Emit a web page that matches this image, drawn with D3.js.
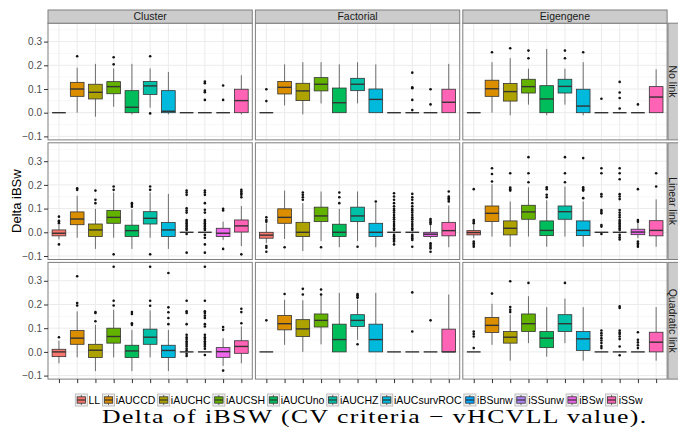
<!DOCTYPE html>
<html><head><meta charset="utf-8">
<script src="https://cdn.jsdelivr.net/npm/d3@7"></script>
<style>body{margin:0;background:#fff}svg{display:block}</style>
</head><body>
<svg id="chart" width="678" height="437"></svg>
<script>
const categories = ["LL","iAUCCD","iAUCHC","iAUCSH","iAUCUno","iAUCHZ","iAUCsurvROC","iBSunw","iSSunw","iBSw","iSSw"];
const colors = ["#F8766D","#DB8E00","#AEA200","#64B200","#00BD5C","#00C1A7","#00BADE","#00A6FF","#B385FF","#EF67EB","#FF63B6"];
const designs = ["Cluster","Factorial","Eigengene"];
const links = ["No link","Linear link","Quadratic link"];
const yTicks = [-0.1,0,0.1,0.2,0.3];
const yMinorTicks = [-0.05,0.05,0.15,0.25,0.35];
const captionText = "Delta of iBSW (CV criteria \u2212 vHCVLL value).";

// box stats per panel: [lower whisker, q1, median, q3, upper whisker]
const clusterNoLink = [[0,0,0,0,0],[0.0,0.069,0.1,0.128,0.19],[-0.017,0.058,0.086,0.12,0.206],[0.025,0.08,0.11,0.131,0.187],[-0.007,0,0.023,0.093,0.206],[0.021,0.077,0.113,0.132,0.187],[-0.007,0,0.006,0.093,0.172],[0,0,0,0,0],[0,0,0,0,0],[0,0,0,0,0],[-0.007,0,0.051,0.099,0.158]];
const clusterNoLinkOut = [[],[0.238],[],[0.234,0.204],[],[0.238,-0.003],[],[],[0.131,0.124,0.093,0.086,0.054],[0.115,0.054],[]];
const factorialNoLink = [[0,0,0,0,0],[0.031,0.079,0.107,0.132,0.204],[-0.007,0.051,0.092,0.124,0.213],[0.039,0.092,0.12,0.148,0.213],[0,0,0.042,0.104,0.204],[0.039,0.093,0.12,0.145,0.213],[0,0,0.056,0.1,0.204],[0,0,0,0,0],[0,0,0,0,0],[0,0,0,0,0],[0,0,0.044,0.099,0.206]];
const factorialNoLinkOut = [[0.099,0.049],[],[],[],[],[],[],[],[0.169,0.107,0.103,0.054,0.011],[0.099,0.035],[]];
const eigengeneNoLink = [[0,0,0,0,0],[0,0.069,0.101,0.137,0.213],[-0.011,0.049,0.089,0.123,0.23],[0.034,0.083,0.11,0.141,0.186],[-0.011,0,0.058,0.114,0.269],[0.034,0.083,0.111,0.141,0.186],[-0.011,0,0.028,0.099,0.213],[0,0,0,0,0],[0,0,0,0,0],[0,0,0,0,0],[0,0,0.066,0.11,0.183]];
const eigengeneNoLinkOut = [[],[0.255],[0.272],[0.262,0.23],[],[0.262,0.23],[0.255],[0.059],[0.13,0.085,0.062,0.018],[0.035],[]];

const clusterLinear = [[-0.03,-0.015,-0.004,0.01,0.031],[-0.023,0.032,0.056,0.086,0.154],[-0.07,-0.018,0.01,0.035,0.099],[-0.023,0.038,0.063,0.092,0.168],[-0.07,-0.018,0.007,0.03,0.097],[-0.023,0.035,0.059,0.087,0.168],[-0.07,-0.018,0.01,0.041,0.162],[0,0,0,0,0],[0,0,0,0,0],[-0.032,-0.018,-0.004,0.017,0.045],[-0.058,0.001,0.027,0.052,0.111]];
const clusterLinearOut = [[0.066,0.048,0.044,0.038,-0.051],[0.186,0.179],[0.176,0.137,0.123],[0.193,0.179,-0.093],[0.123,0.115,0.108],[0.193,0.179,-0.093],[],[0.176,0.168,0.158,0.101,0.092,0.083,0.052,0.045,0.038,0.031,0.024,0.017,0.01,-0.007,-0.086],[0.176,0.168,0.158,0.123,0.095,0.083,0.052,0.045,0.038,0.031,0.024,0.017,0.01,-0.011,-0.023,-0.051,-0.086],[0.099,0.092,-0.07],[0.179,0.172,0.165,0.158,0.148,-0.093]];
const factorialLinear = [[-0.046,-0.025,-0.012,0,0.038],[-0.028,0.038,0.063,0.099,0.176],[-0.079,-0.018,0,0.042,0.123],[-0.037,0.045,0.069,0.106,0.172],[-0.063,-0.018,0,0.034,0.099],[-0.037,0.045,0.069,0.106,0.172],[-0.063,-0.018,0,0.038,0.123],[0,0,0,0,0],[0,0,0,0,0],[-0.025,-0.018,-0.008,0,0.031],[-0.063,-0.015,0.007,0.042,0.113]];
const factorialLinearOut = [[0.063,0.052,0.045,-0.058,-0.065,-0.082],[-0.063],[0.168,0.158,0.148,0.137],[-0.063],[0.168,0.148,0.123],[-0.061],[0.13],[0.165,0.151,0.137,0.123,0.11,0.099,0.092,0.083,0.073,0.063,0.055,0.045,0.035,0.027,0.017,0.01,-0.011,-0.018,-0.025,-0.032,-0.039,-0.051],[0.162,0.148,0.137,0.123,0.11,0.099,0.092,0.083,0.073,0.063,0.055,0.045,0.035,0.027,0.017,0.01,-0.011,-0.018,-0.025,-0.032,-0.061],[0.056,0.049,0.042,0.035,-0.046,-0.054,-0.061,-0.068,-0.082],[0.172,0.151,0.144,0.137,0.13]];
const eigengeneLinear = [[-0.025,-0.011,-0.001,0.007,0.034],[-0.018,0.046,0.08,0.111,0.203],[-0.061,-0.011,0.017,0.048,0.13],[-0.018,0.055,0.086,0.114,0.19],[-0.061,-0.014,0.008,0.048,0.135],[-0.018,0.055,0.087,0.111,0.193],[-0.061,-0.014,0.008,0.048,0.13],[0,0,0,0,0],[0,0,0,0,0],[-0.025,-0.01,0.001,0.013,0.045],[-0.061,-0.015,0.008,0.049,0.139]];
const eigengeneLinearOut = [[0.182,0.052,0.045,0.038,-0.039,-0.046,-0.054,-0.061],[0.27,0.246,0.214],[0.249,0.189,0.182,0.176],[0.317,0.249,0.211],[0.19,0.182,0.158,0.148],[0.317,0.249,0.211],[0.313,0.19,0.182,0.176,0.144],[0.27,0.249,0.161,0.151,0.094,0.087,0.08,0.031,0.024,-0.007],[0.27,0.249,0.224,0.161,0.151,0.14,0.094,0.083,0.073,0.063,0.052,0.045,0.038,0.031,0.024,0.017,0.01,-0.011,-0.021,-0.03],[0.182,0.052,0.045,-0.039,-0.046,-0.054,-0.061],[0.249,0.193]];

const clusterQuad = [[-0.048,-0.02,0,0.011,0.047],[-0.023,0.032,0.058,0.09,0.171],[-0.081,-0.024,0.007,0.032,0.114],[-0.023,0.037,0.065,0.1,0.178],[-0.081,-0.024,0.004,0.028,0.093],[-0.023,0.032,0.062,0.096,0.175],[-0.081,-0.024,0.006,0.028,0.093],[0,0,0,0,0],[0,0,0,0,0],[-0.059,-0.023,0.001,0.018,0.058],[-0.048,-0.006,0.023,0.047,0.107]];
const clusterQuadOut = [[0.062],[0.319,0.206,0.196],[0.168,0.164,0.129],[0.359,0.216,0.196],[0.168,0.16,0.121,0.114],[0.359,0.216,0.195],[0.333,0.188,0.167,0.143,0.117],[0.216,0.171,0.164,0.117,0.072,0.062,0.054,0.045,0.037,0.03,0.023,0.013,0.006,-0.008,-0.017],[0.359,0.216,0.171,0.164,0.153,0.143,0.117,0.107,0.072,0.062,0.054,0.045,0.037,0.03,0.023,0.013,-0.013],[0.105,0.093,-0.079],[0.182,0.168,0.121]];
const factorialQuad = [[0,0,0,0,0],[0.03,0.093,0.119,0.154,0.22],[0,0.065,0.097,0.136,0.218],[0.032,0.105,0.133,0.16,0.239],[0,0,0.052,0.117,0.249],[0.051,0.107,0.133,0.157,0.22],[0,0,0.052,0.117,0.249],[0,0,0,0,0],[0,0,0,0,0],[0,0,0,0,0],[0,0,0,0.096,0.242]];
const factorialQuadOut = [[0.133],[0.244],[0.266,0.242],[0.263,0.242],[],[0.244,0.239,0.232,0.228,0.032],[],[],[0.251,0.086],[0.133],[]];
const eigengeneQuad = [[0,0,0,0,0],[0.03,0.082,0.112,0.145,0.203],[-0.037,0.037,0.062,0.086,0.157],[0.037,0.086,0.119,0.16,0.235],[-0.02,0.018,0.058,0.086,0.189],[0.037,0.086,0.119,0.157,0.225],[-0.037,0.006,0.055,0.086,0.189],[0,0,0,0,0],[0,0,0,0,0],[0,0,0,0,0],[-0.037,0,0.041,0.083,0.189]];
const eigengeneQuadOut = [[0.086,0.076,0.065,0.016],[0.246],[0.298,0.189,0.178,0.168],[0.291],[],[0.291],[],[0.09,0.079,0.069,0.058,0.048,0.037,0.025,0.016],[0.192,0.185,0.09,0.082,0.075,0.065,0.054,0.023,-0.014],[0.083,0.051,0.04,0.028,0.016],[]];

const panelStats = [[clusterNoLink,factorialNoLink,eigengeneNoLink],[clusterLinear,factorialLinear,eigengeneLinear],[clusterQuad,factorialQuad,eigengeneQuad]];
const panelOut = [[clusterNoLinkOut,factorialNoLinkOut,eigengeneNoLinkOut],[clusterLinearOut,factorialLinearOut,eigengeneLinearOut],[clusterQuadOut,factorialQuadOut,eigengeneQuadOut]];

// ---------- layout ----------
const svg = d3.select("#chart");
const FONT = "'Liberation Sans', Arial, Helvetica, sans-serif";
const colX = [48, 255.4, 462.8], panelW = 204.3;
const rowY = [23.2, 142.8, 262.4], panelH = 116.7;
const stripTop = 10, stripRightX = 668, stripW = 14;

const x = d3.scalePoint().domain(categories).range([0, panelW]).padding(0.6);
const y = d3.scaleLinear().domain([-0.1148, 0.3776]).range([panelH, 0]);
const color = d3.scaleOrdinal().domain(categories).range(colors);
const boxW = x.step() * 0.75;

links.forEach((lk, r) => {
  designs.forEach((ds, c) => {
    const g = svg.append("g").attr("transform", `translate(${colX[c]},${rowY[r]})`);
    g.append("rect").attr("width", panelW).attr("height", panelH).attr("fill", "#fff");
    g.selectAll(".ming").data(yMinorTicks.filter(v => v > y.domain()[0] && v < y.domain()[1])).enter().append("line")
      .attr("x1", 0).attr("x2", panelW).attr("y1", d => y(d)).attr("y2", d => y(d))
      .attr("stroke", "#F7F7F7").attr("stroke-width", 1);
    g.selectAll(".majg").data(yTicks).enter().append("line")
      .attr("x1", 0).attr("x2", panelW).attr("y1", d => y(d)).attr("y2", d => y(d))
      .attr("stroke", "#EBEBEB").attr("stroke-width", 1);
    g.selectAll(".vg").data(categories).enter().append("line")
      .attr("x1", d => x(d)).attr("x2", d => x(d)).attr("y1", 0).attr("y2", panelH)
      .attr("stroke", "#EBEBEB").attr("stroke-width", 1);

    const stats = panelStats[r][c];
    const outs = panelOut[r][c];
    categories.forEach((cat, i) => {
      const [lo, q1, med, q3, hi] = stats[i];
      const cx = x(cat);
      const bg = g.append("g");
      bg.append("line").attr("x1", cx).attr("x2", cx).attr("y1", y(hi)).attr("y2", y(q3))
        .attr("stroke", "#4d4d4d").attr("stroke-width", 0.8);
      bg.append("line").attr("x1", cx).attr("x2", cx).attr("y1", y(q1)).attr("y2", y(lo))
        .attr("stroke", "#4d4d4d").attr("stroke-width", 0.8);
      bg.append("rect").attr("x", cx - boxW / 2).attr("width", boxW)
        .attr("y", y(q3)).attr("height", Math.max(0, y(q1) - y(q3)))
        .attr("fill", color(cat)).attr("stroke", "#333").attr("stroke-width", 0.8);
      bg.append("line").attr("x1", cx - boxW / 2).attr("x2", cx + boxW / 2)
        .attr("y1", y(med)).attr("y2", y(med)).attr("stroke", "#333").attr("stroke-width", 1.4);
      bg.selectAll("circle").data(outs[i]).enter().append("circle")
        .attr("cx", cx).attr("cy", d => y(d)).attr("r", 1.3).attr("fill", "#111");
    });
    g.append("rect").attr("width", panelW).attr("height", panelH)
      .attr("fill", "none").attr("stroke", "#7F7F7F").attr("stroke-width", 1);

    if (r === 0) {
      const sg = svg.append("g").attr("transform", `translate(${colX[c]},${stripTop})`);
      sg.append("rect").attr("width", panelW).attr("height", rowY[0] - stripTop)
        .attr("fill", "#CCCCCC").attr("stroke", "#7F7F7F").attr("stroke-width", 1);
      sg.append("text").attr("x", panelW / 2).attr("y", (rowY[0] - stripTop) / 2 + 3.8)
        .attr("text-anchor", "middle").attr("font-family", FONT).attr("font-size", 10.5)
        .attr("fill", "#1a1a1a").text(ds);
    }
    if (c === 2) {
      const sg = svg.append("g").attr("transform", `translate(${stripRightX},${rowY[r]})`);
      sg.append("rect").attr("width", stripW).attr("height", panelH)
        .attr("fill", "#CCCCCC").attr("stroke", "#7F7F7F").attr("stroke-width", 1);
      sg.append("text").attr("transform", `translate(${1.3},${panelH / 2}) rotate(90)`)
        .attr("text-anchor", "middle").attr("font-family", FONT).attr("font-size", 10.5)
        .attr("fill", "#1a1a1a").text(lk);
    }
    if (c === 0) {
      const ax = svg.append("g").attr("transform", `translate(${colX[0]},${rowY[r]})`)
        .call(d3.axisLeft(y).tickValues(yTicks).tickSize(4).tickPadding(2).tickFormat(d3.format(".1f")));
      ax.select(".domain").remove();
      ax.selectAll("line").attr("stroke", "#333");
      ax.selectAll("text").attr("font-family", FONT).attr("font-size", 10).attr("fill", "#4D4D4D");
    }
    if (r === 2) {
      const ax = svg.append("g").attr("transform", `translate(${colX[c]},${rowY[2] + panelH})`)
        .call(d3.axisBottom(x).tickSize(4).tickFormat(""));
      ax.select(".domain").remove();
      ax.selectAll("line").attr("stroke", "#333");
    }
  });
});

// y axis title
svg.append("text").attr("transform", `translate(20.5,${(rowY[0] + rowY[2] + panelH) / 2}) rotate(-90)`)
  .attr("text-anchor", "middle").attr("font-family", FONT).attr("font-size", 13)
  .attr("fill", "#000").text("Delta iBSw");

// legend
const lg = svg.append("g");
const keyS = 12, legY = 394;
let cursor = 0;
const items = categories.map(cat => {
  const it = lg.append("g");
  it.append("rect").attr("width", keyS).attr("height", keyS).attr("fill", "#F2F2F2")
    .attr("stroke", "#BDBDBD").attr("stroke-width", 1);
  it.append("line").attr("x1", keyS / 2).attr("x2", keyS / 2).attr("y1", 1).attr("y2", keyS - 1)
    .attr("stroke", "#4d4d4d").attr("stroke-width", 0.8);
  it.append("rect").attr("x", 1.8).attr("y", 2.8).attr("width", keyS - 3.6).attr("height", keyS - 5.6)
    .attr("fill", color(cat)).attr("stroke", "#333").attr("stroke-width", 0.8);
  it.append("line").attr("x1", 1.8).attr("x2", keyS - 1.8).attr("y1", keyS / 2).attr("y2", keyS / 2)
    .attr("stroke", "#333").attr("stroke-width", 1.2);
  const t = it.append("text").attr("x", keyS + 1.2).attr("y", keyS / 2 + 3.8)
    .attr("font-family", FONT).attr("font-size", 10.5).attr("fill", "#000").text(cat);
  const w = keyS + 1.2 + t.node().getComputedTextLength();
  const pos = cursor;
  cursor += w + 2.3;
  return { it, pos };
});
const totalW = cursor - 2.3;
const legX0 = 359 - totalW / 2;
items.forEach(d => d.it.attr("transform", `translate(${legX0 + d.pos},${legY})`));

// caption: natural font with slight tracking, scaled horizontally to the reference width
const cap = svg.append("text").attr("x", 0).attr("y", 0)
  .attr("font-family", "'Liberation Serif', 'Times New Roman', serif").attr("font-size", 19.5)
  .style("letter-spacing", "1.1px")
  .attr("fill", "#000").text(captionText);
const capLen = cap.node().getComputedTextLength();
cap.attr("transform", `translate(102,423.3) scale(${546 / capLen},1)`);
</script>
</body></html>
